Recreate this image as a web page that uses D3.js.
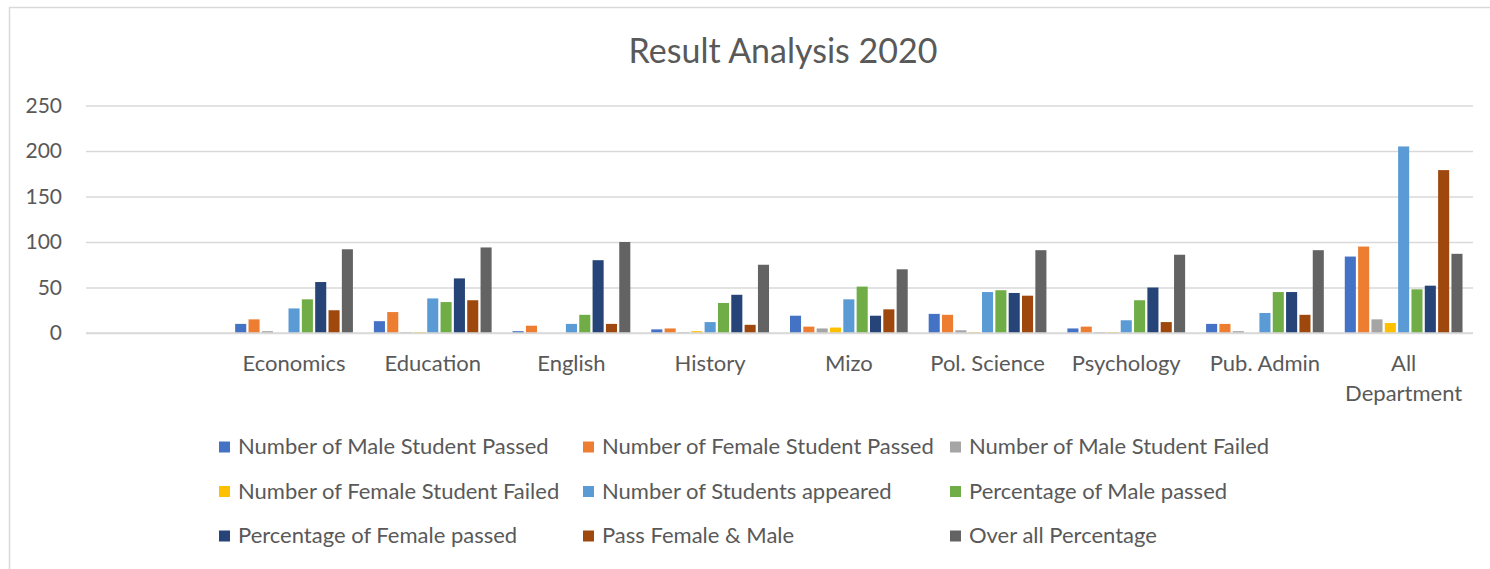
<!DOCTYPE html>
<html>
<head>
<meta charset="utf-8">
<script src="https://cdn.jsdelivr.net/npm/d3@7"></script>
<style>
  body { margin: 0; background: #fff; }
  text { font-family: Lato, "Open Sans", sans-serif; fill: #595959; }
</style>
</head>
<body>
<svg width="1490" height="569"></svg>
<script>
// categories (first one is empty in the original sheet)
let categories = ["", "Economics", "Education", "English", "History", "Mizo", "Pol. Science", "Psychology", "Pub. Admin", "All Department"];
let catLabels = [[""], ["Economics"], ["Education"], ["English"], ["History"], ["Mizo"], ["Pol. Science"], ["Psychology"], ["Pub. Admin"], ["All", "Department"]];

let seriesNames = [
    "Number of Male Student Passed", "Number of Female Student Passed", "Number of Male Student Failed",
    "Number of Female Student Failed", "Number of Students appeared", "Percentage of Male passed",
    "Percentage of Female passed", "Pass Female & Male", "Over all Percentage"
];
let seriesColors = ["#4472C4", "#ED7D31", "#A5A5A5", "#FFC000", "#5B9BD5", "#70AD47", "#264478", "#9E480E", "#636363"];

// values per category, same order as categories
let malePassed   = [0, 10, 13, 2, 4, 19, 21, 5, 10, 84];
let femalePassed = [0, 15, 23, 8, 5, 7, 20, 7, 10, 95];
let maleFailed   = [0, 2, 1, 0, 1, 5, 3, 1, 2, 15];
let femaleFailed = [0, 0, 1, 0, 2, 6, 1, 1, 0, 11];
let appeared     = [0, 27, 38, 10, 12, 37, 45, 14, 22, 205];
let pctMale      = [0, 37, 34, 20, 33, 51, 47, 36, 45, 48];
let pctFemale    = [0, 56, 60, 80, 42, 19, 44, 50, 45, 52];
let passTotal    = [0, 25, 36, 10, 9, 26, 41, 12, 20, 179];
let overallPct   = [0, 92, 94, 100, 75, 70, 91, 86, 91, 87];

let yTicks = [0, 50, 100, 150, 200, 250];

let allSeries = [malePassed, femalePassed, maleFailed, femaleFailed, appeared, pctMale, pctFemale, passTotal, overallPct];

var svg = d3.select("svg");

// chart frame
svg.append("rect")
    .attr("x", 9.5).attr("y", 7.5)
    .attr("width", 1600).attr("height", 700)
    .attr("fill", "none")
    .attr("stroke", "#d9d9d9")
    .attr("stroke-width", 1.5);

var plotLeft = 86, plotRight = 1473, plotTop = 105.5, plotBottom = 333;

var x0 = d3.scaleBand()
    .domain(categories)
    .range([plotLeft, plotRight])
    .padding(0);

var groupPad = 9.35;
var x1 = d3.scaleBand()
    .domain(d3.range(seriesNames.length))
    .range([groupPad, x0.bandwidth() - groupPad])
    .paddingInner(0.17)
    .paddingOuter(0.085);

var y = d3.scaleLinear()
    .domain([0, 250])
    .range([plotBottom, plotTop]);

// title
svg.append("text")
    .attr("x", 783)
    .attr("y", 63)
    .attr("text-anchor", "middle")
    .style("font-size", "34px")
    .text("Result Analysis 2020");

// y axis with gridlines
var yAxis = svg.append("g")
    .attr("transform", `translate(${plotLeft},0)`)
    .call(d3.axisLeft(y)
        .tickValues(yTicks)
        .tickSize(-(plotRight - plotLeft))
        .tickPadding(24));

yAxis.select(".domain").remove();
yAxis.selectAll(".tick line")
    .attr("stroke", "#d9d9d9")
    .attr("stroke-width", 1.5);
yAxis.selectAll(".tick text")
    .style("font-size", "21px")
    .style("font-family", "Lato, sans-serif")
    .attr("fill", "#595959");

// bars
let bars = [];
categories.forEach((c, ci) => {
    allSeries.forEach((s, si) => {
        bars.push({ cat: c, si: si, value: s[ci] });
    });
});

svg.append("g")
    .selectAll("rect")
    .data(bars.filter(d => d.value > 0))
    .enter()
    .append("rect")
    .attr("x", d => x0(d.cat) + x1(d.si))
    .attr("width", x1.bandwidth())
    .attr("y", d => y(d.value))
    .attr("height", d => y(0) - y(d.value))
    .attr("fill", d => seriesColors[d.si]);

// zero line on top
svg.append("line")
    .attr("x1", plotLeft).attr("x2", plotRight)
    .attr("y1", y(0)).attr("y2", y(0))
    .attr("stroke", "#d9d9d9")
    .attr("stroke-width", 1.5);

// category labels
var xLab = svg.append("g")
    .selectAll("text")
    .data(categories)
    .enter()
    .append("text")
    .attr("x", d => x0(d) + x0.bandwidth() / 2)
    .attr("y", 371)
    .attr("text-anchor", "middle")
    .style("font-size", "22px");

xLab.each(function (d, i) {
    let t = d3.select(this);
    catLabels[i].forEach((line, li) => {
        t.append("tspan")
            .attr("x", x0(d) + x0.bandwidth() / 2)
            .attr("dy", li == 0 ? 0 : 30)
            .text(line);
    });
});

// legend, 3 columns
var legCols = [219, 583, 950], legRows = [447, 491.5, 536];
var legend = svg.append("g")
    .selectAll("g")
    .data(seriesNames)
    .enter()
    .append("g")
    .attr("transform", (d, i) => `translate(${legCols[i % 3]},${legRows[Math.floor(i / 3)]})`);

legend.append("rect")
    .attr("x", 0).attr("y", -5.5)
    .attr("width", 11).attr("height", 11)
    .attr("fill", (d, i) => seriesColors[i]);

legend.append("text")
    .attr("x", 19)
    .attr("y", 7)
    .style("font-size", "22px")
    .text(d => d);
</script>
</body>
</html>
